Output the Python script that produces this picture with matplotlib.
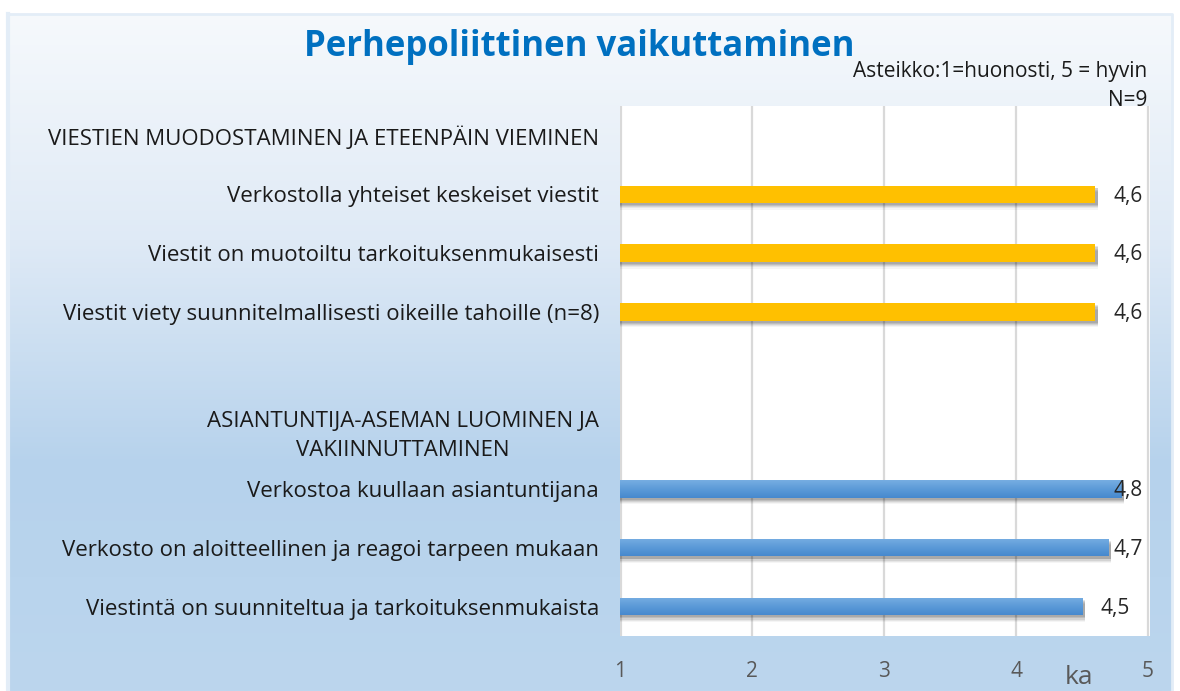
import matplotlib.pyplot as plt
import numpy as np
from matplotlib.colors import LinearSegmentedColormap

# data
categories = [
    "VIESTIEN MUODOSTAMINEN JA ETEENPÄIN VIEMINEN",
    "Verkostolla yhteiset keskeiset viestit",
    "Viestit on muotoiltu tarkoituksenmukaisesti",
    "Viestit viety suunnitelmallisesti oikeille tahoille (n=8)",
    "",
    "ASIANTUNTIJA-ASEMAN LUOMINEN JA\nVAKIINNUTTAMINEN",
    "Verkostoa kuullaan asiantuntijana",
    "Verkosto on aloitteellinen ja reagoi tarpeen mukaan",
    "Viestintä on suunniteltua ja tarkoituksenmukaista",
]
values = [np.nan, 4.6, 4.6, 4.6, np.nan, np.nan, 4.8, 4.7, 4.5]
groups = ["", "a", "a", "a", "", "", "b", "b", "b"]
value_labels = ["", "4,6", "4,6", "4,6", "", "", "4,8", "4,7", "4,5"]
xticks = [1, 2, 3, 4, 5]

title = "Perhepoliittinen vaikuttaminen"
subtitle = "Asteikko:1=huonosti, 5 = hyvin"
n_text = "N=9"

plt.rcParams["font.family"] = ["Open Sans", "DejaVu Sans"]

W, H = 1180, 691
fig = plt.figure(figsize=(W / 100, H / 100), dpi=100)
fig.patch.set_facecolor("white")

# gradient background of chart area
bg = fig.add_axes([8 / W, 0, (1172 - 8) / W, 1 - 14 / H])
bg.set_axis_off()
grad = np.linspace(0, 1, 256).reshape(-1, 1)
bg_cmap = LinearSegmentedColormap.from_list("bg", ["#f6f9fc", "#dfeaf6", "#b6d2ec", "#bcd6ee"])
bg.imshow(grad, aspect="auto", cmap=bg_cmap, extent=[0, 1, 0, 1], origin="upper")
bg.set_xlim(0, 1)
bg.set_ylim(0, 1)
bg.plot([0, 1, 1], [1, 1, 0], color="#e3edf7", lw=2, transform=bg.transAxes, clip_on=False)
bg.plot([0, 0], [0, 1], color="#e3edf7", lw=3, transform=bg.transAxes, clip_on=False)

ax = fig.add_axes([620 / W, 1 - 636 / H, (1150 - 620) / W, (636 - 106) / H])
ax.set_facecolor("white")
y = np.arange(len(categories))

blue_cmap = LinearSegmentedColormap.from_list("bl", ["#77aee2", "#5c9ad8", "#4689ce"])
bar_h = 0.3
vals = np.array(values, dtype=float)
for i in range(len(categories)):
    v = vals[i]
    if np.isnan(v):
        continue
    w = v - 1
    # soft shadow
    for k, a in [(0.11, 0.04), (0.09, 0.06), (0.07, 0.08), (0.05, 0.10), (0.035, 0.10)]:
        ax.barh(y[i] + k, w + 0.02, left=1, height=bar_h, color="black", alpha=a, lw=0, zorder=2)
    if groups[i] == "a":
        ax.barh(y[i], w, left=1, height=bar_h, color="#ffc000", lw=0, zorder=3)
    else:
        bars = ax.barh(y[i], w, left=1, height=bar_h, color="#5b9bd5", lw=0, zorder=3)
        p = bars[0]
        x0, y0 = p.get_x(), p.get_y()
        im = ax.imshow(grad, aspect="auto", cmap=blue_cmap,
                       extent=[x0, x0 + p.get_width(), y0 + p.get_height(), y0],
                       origin="upper", zorder=4)
        im.set_clip_path(p)
    lx = min(v + 0.14, 4.74)
    ax.text(lx, y[i] + 0.03, value_labels[i], ha="left", va="center", fontsize=15,
            color="#262626", zorder=6)

ax.set_xlim(1, 5.015)
ax.set_ylim(len(categories) - 0.5, -0.5)

ax.set_xticks(xticks)
ax.set_xticklabels([str(t) for t in xticks], fontsize=15, color="#595959")
ax.tick_params(axis="x", length=0, pad=18)
ax.grid(axis="x", color="#d9d9d9", lw=1.6, zorder=0)
ax.set_axisbelow(True)
ax.axvline(1, color="#d9d9d9", lw=3, zorder=1)

ax.set_yticks(y)
ax.set_yticklabels(categories, fontsize=16, color="#1a1a1a", linespacing=1.45)
ax.tick_params(axis="y", length=0, pad=15)
for lab in ax.get_yticklabels():
    lab.set_horizontalalignment("right")
    lab.set_multialignment("center")

for s in ax.spines.values():
    s.set_visible(False)

fig.text(579 / W, 1 - 47 / H, title, ha="center", va="center", fontsize=25,
         fontweight="bold", color="#0070c0")
fig.text(1147 / W, 1 - 72 / H, subtitle, ha="right", va="center", fontsize=15, color="#1a1a1a")
fig.text(1147 / W, 1 - 101 / H, n_text, ha="right", va="center", fontsize=15, color="#1a1a1a")
fig.text(1079 / W, 1 - 677 / H, "ka", ha="center", va="center", fontsize=19, color="#595959")

fig.savefig("out.png", dpi=100)
